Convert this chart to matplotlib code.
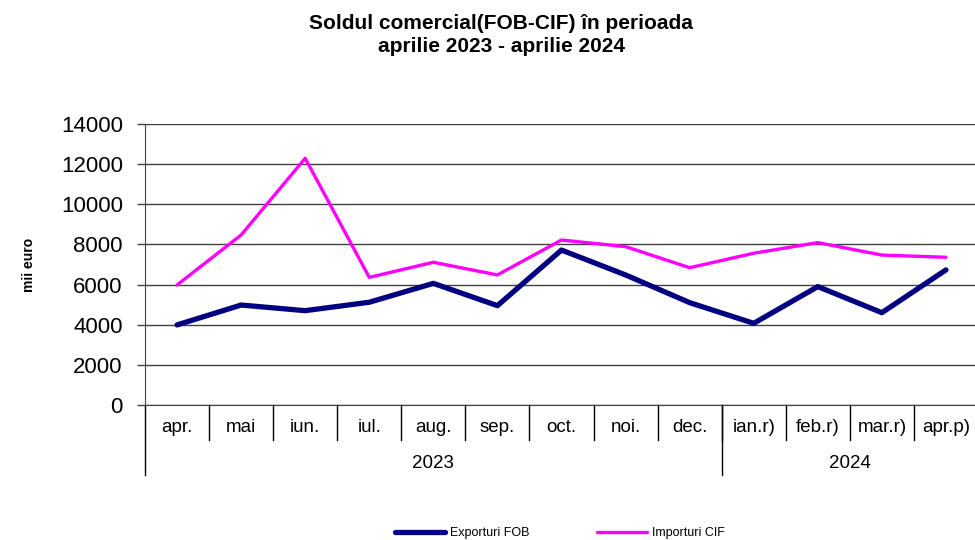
import numpy as np
import matplotlib.pyplot as plt
from matplotlib.lines import Line2D

months = ["apr.", "mai", "iun.", "iul.", "aug.", "sep.", "oct.", "noi.", "dec.",
          "ian.r)", "feb.r)", "mar.r)", "apr.p)"]
years = ["2023", "2024"]
months_per_year = [9, 4]
exporturi = [3990, 4980, 4700, 5120, 6060, 4950, 7720, 6480, 5100, 4070, 5900, 4600, 6730]
importuri = [5980, 8470, 12290, 6360, 7110, 6480, 8220, 7890, 6840, 7560, 8090, 7470, 7360]

plt.rcParams["font.family"] = ["Liberation Sans", "DejaVu Sans"]

fig = plt.figure(figsize=(9.75, 5.4), dpi=100)
ax = fig.add_axes([145 / 975, 1 - 405 / 540, (978 - 145) / 975, (405 - 124) / 540])

x = np.arange(len(months))
ax.plot(x, exporturi, color="#000080", lw=3.8, solid_capstyle="round",
        label="Exporturi FOB")
ax.plot(x, importuri, color="#FF00FF", lw=2.4, solid_capstyle="round",
        label="Importuri CIF")

ax.set_xlim(-0.5, len(months) - 0.5)
ax.set_ylim(0, 14000)
ax.set_yticks(np.arange(0, 14001, 2000))
ax.tick_params(axis="y", labelsize=16, length=6, width=1, color="#404040", pad=10)
ax.yaxis.grid(True, color="#404040", lw=1)
ax.set_axisbelow(True)
for s in ["top", "right"]:
    ax.spines[s].set_visible(False)
ax.spines["left"].set_color("#404040")
ax.spines["bottom"].set_color("#404040")
ax.set_xticks([])

ax.set_ylabel("mii euro", fontsize=10, fontweight="bold", labelpad=18)

# multi-level category axis: months, then years
tr = ax.get_xaxis_transform()
y_sep = -35 / 281
y_year = -70 / 281
for i, m in enumerate(months):
    ax.text(i, -23 / 281, m, transform=tr, ha="center", va="center", fontsize=13.5)
for b in range(1, len(months)):
    ax.add_line(Line2D([b - 0.5, b - 0.5], [0, y_sep], transform=tr,
                       color="black", lw=1, clip_on=False))
start = -0.5
ax.add_line(Line2D([start, start], [0, y_year], transform=tr,
                   color="black", lw=1, clip_on=False))
for yr, n in zip(years, months_per_year):
    end = start + n
    ax.text((start + end) / 2, -58 / 281, yr, transform=tr, ha="center",
            va="center", fontsize=13.5)
    if end < len(months) - 0.5:
        ax.add_line(Line2D([end, end], [0, y_year], transform=tr,
                           color="black", lw=1, clip_on=False))
    start = end

fig.text(0.514, 1 - 35 / 540, "Soldul comercial(FOB-CIF) în perioada\naprilie 2023 - aprilie 2024",
         ha="center", va="center", fontsize=15, fontweight="bold", linespacing=1.3)

fig.legend(loc="center", bbox_to_anchor=(0.574, 1 - 533 / 540), ncol=2, frameon=False,
           fontsize=9, handlelength=4, columnspacing=5.4, handletextpad=0.4)

fig.savefig("out.png", dpi=100)
